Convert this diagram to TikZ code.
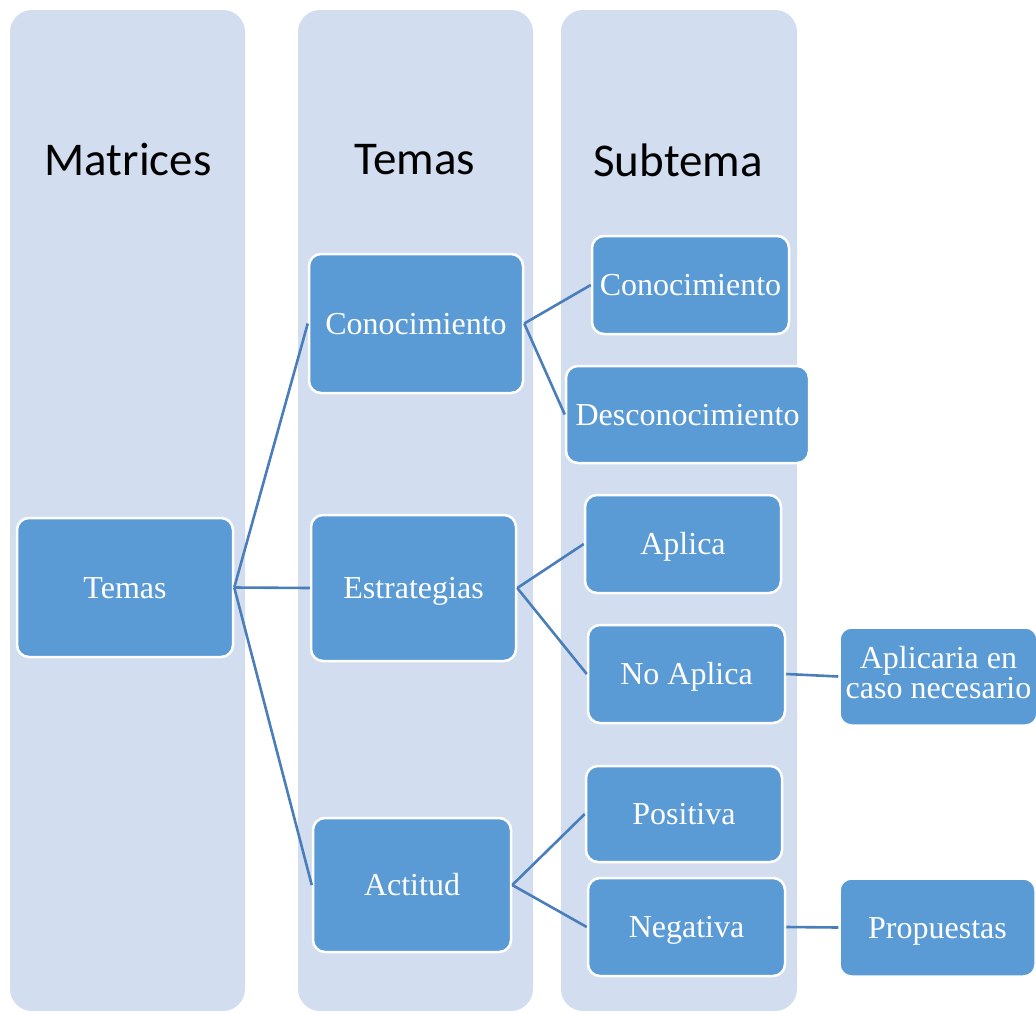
\documentclass[tikz,border=0pt]{standalone}
\usepackage{fontspec}
\setmainfont{Liberation Serif}
\newfontfamily\headfont{Carlito}
\definecolor{colbg}{HTML}{D2DEEF}
\definecolor{boxbg}{HTML}{5B9BD5}
\definecolor{linkc}{HTML}{4A7EBB}

\begin{document}
\begin{tikzpicture}[x=1pt,y=-1pt,
  colbox/.style={fill=colbg,rounded corners=22pt},
  headtxt/.style={font=\headfont\fontsize{47}{50}\selectfont},
  item/.style={rectangle,rounded corners=12pt,fill=boxbg,draw=white,line width=2.5pt,
    text=white,inner sep=0pt,align=center,text height=22pt,text depth=1pt,
    font=\fontsize{32}{30}\selectfont},
  link/.style={draw=linkc,line width=2.6pt}]
\useasboundingbox (0,0) rectangle (1036,1012);
% columns
\fill [colbox] (10,10) rectangle (245,1011);
\fill [colbox] (298,10) rectangle (533,1011);
\fill [colbox] (561,10) rectangle (797,1011);
\node [headtxt] (hmat) at (128,160) {Matrices};
\node [headtxt] (htem) at (415,160) {Temas};
\node [headtxt] (hsub) at (678,160) {Subtema};
% boxes
\node [item,minimum width=216pt,minimum height=139pt] (temas) at (125,587.5) {Temas};
\node [item,minimum width=214pt,minimum height=139pt] (conoc) at (416,323.5) {Conocimiento};
\node [item,minimum width=205pt,minimum height=146pt] (estrat) at (413.5,588) {Estrategias};
\node [item,minimum width=198pt,minimum height=134pt] (actit) at (412,885) {Actitud};
\node [item,minimum width=197pt,minimum height=98pt] (sconoc) at (690.5,285) {Conocimiento};
\node [item,minimum width=243pt,minimum height=97pt] (sdescon) at (687.5,414.5) {Desconocimiento};
\node [item,minimum width=196pt,minimum height=98pt] (aplica) at (683,544) {Aplica};
\node [item,minimum width=197pt,minimum height=98pt] (noaplica) at (686.5,674) {No Aplica};
\node [item,minimum width=196pt,minimum height=96pt] (positiva) at (684,814) {Positiva};
\node [item,minimum width=197pt,minimum height=98pt] (negativa) at (686.5,927) {Negativa};
\node [item,minimum width=198pt,minimum height=98pt,text height=44pt] (aplicaria) at (938.5,676.5) {Aplicaria en\\caso necesario};
\node [item,minimum width=196pt,minimum height=98pt] (propuestas) at (937.5,927.5) {Propuestas};
% links
\draw [link] (temas.east) -- (conoc.west);
\draw [link] (temas.east) -- (estrat.west);
\draw [link] (temas.east) -- (actit.west);
\draw [link] (conoc.east) -- (sconoc.west);
\draw [link] (conoc.east) -- (sdescon.west);
\draw [link] (estrat.east) -- (aplica.west);
\draw [link] (estrat.east) -- (noaplica.west);
\draw [link] (actit.east) -- (positiva.west);
\draw [link] (actit.east) -- (negativa.west);
\draw [link] (noaplica.east) -- (aplicaria.west);
\draw [link] (negativa.east) -- (propuestas.west);
\end{tikzpicture}
\end{document}
